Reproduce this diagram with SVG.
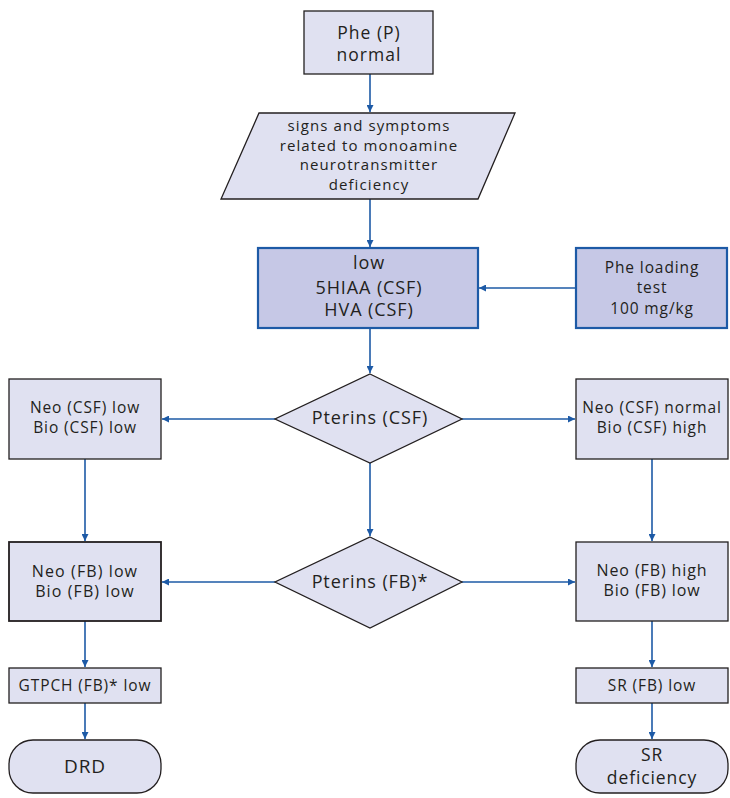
<svg xmlns="http://www.w3.org/2000/svg" width="730" height="798" viewBox="0 0 730 798">
<style>
.n{fill:#e0e1f1;stroke:#231f20;stroke-width:1.3}
.nb{fill:#c6c8e6;stroke:#1d5aa6;stroke-width:2.2}
.t{font-family:"Open Sans","Noto Sans","Liberation Sans",sans-serif;fill:#231f20;text-anchor:middle;letter-spacing:0.9px}
.c{stroke:#1d5aa6;stroke-width:1.6;fill:none;marker-end:url(#ah)}
</style>
<defs>
<marker id="ah" viewBox="0 0 10 10" refX="10" refY="5" markerWidth="7" markerHeight="7" markerUnits="userSpaceOnUse" orient="auto"><path d="M0,0 L10,5 L0,10 z" fill="#1d5aa6"/></marker>
</defs>
<rect width="730" height="798" fill="#fff"/>
<g id="connectors">
<path class="c" d="M370,74 V112"/>
<path class="c" d="M370,199 V247"/>
<path class="c" d="M576,288 H479"/>
<path class="c" d="M370,328 V373"/>
<path class="c" d="M275,419 H162"/>
<path class="c" d="M462,419 H575"/>
<path class="c" d="M370,463 V536"/>
<path class="c" d="M85,459 V541"/>
<path class="c" d="M652,459 V541"/>
<path class="c" d="M275,582 H162"/>
<path class="c" d="M462,582 H575"/>
<path class="c" d="M85,621 V667"/>
<path class="c" d="M652,621 V667"/>
<path class="c" d="M85,703 V739"/>
<path class="c" d="M652,703 V739"/>
</g>
<g id="phe">
<rect class="n" x="304" y="11" width="129" height="63"/>
<text class="t" font-size="17.5" x="369" y="39" style="letter-spacing:1px">Phe (P)</text>
<text class="t" font-size="17.5" x="369" y="61" style="letter-spacing:1px">normal</text>
</g>
<g id="signs">
<polygon class="n" points="259,113 515,113 478,199 221,199"/>
<text class="t" font-size="15" x="369" y="131" style="letter-spacing:1.1px">signs and symptoms</text>
<text class="t" font-size="15" x="369" y="150.7" style="letter-spacing:1.1px">related to monoamine</text>
<text class="t" font-size="15" x="369" y="170.4" style="letter-spacing:1.1px">neurotransmitter</text>
<text class="t" font-size="15" x="369" y="190" style="letter-spacing:1.1px">deficiency</text>
</g>
<g id="low">
<rect class="nb" x="258" y="248" width="220" height="80"/>
<text class="t" font-size="18" x="369" y="269">low</text>
<text class="t" font-size="18" x="369" y="294">5HIAA (CSF)</text>
<text class="t" font-size="18" x="369" y="316">HVA (CSF)</text>
</g>
<g id="pheload">
<rect class="nb" x="576" y="248" width="151" height="80"/>
<text class="t" font-size="15.5" x="652" y="273">Phe loading</text>
<text class="t" font-size="15.5" x="652" y="293">test</text>
<text class="t" font-size="15.5" x="652" y="314">100 mg/kg</text>
</g>
<g id="ptcsf">
<polygon class="n" points="370,374 462,419 370,463 275,419"/>
<text class="t" font-size="18" x="370" y="424">Pterins (CSF)</text>
</g>
<g id="csflow">
<rect class="n" x="9" y="379" width="152" height="80"/>
<text class="t" font-size="15.5" x="85" y="413">Neo (CSF) low</text>
<text class="t" font-size="15.5" x="85" y="433">Bio (CSF) low</text>
</g>
<g id="csfhigh">
<rect class="n" x="576" y="379" width="152" height="80"/>
<text class="t" font-size="15.5" x="652" y="413">Neo (CSF) normal</text>
<text class="t" font-size="15.5" x="652" y="433">Bio (CSF) high</text>
</g>
<g id="ptfb">
<polygon class="n" points="370,537 462,582 370,628 275,582"/>
<text class="t" font-size="18" x="370" y="588">Pterins (FB)*</text>
</g>
<g id="fblow">
<rect class="n" x="9" y="542" width="152" height="79" style="stroke-width:1.8"/>
<text class="t" font-size="16" x="85" y="577" style="letter-spacing:1.1px">Neo (FB) low</text>
<text class="t" font-size="16" x="85" y="597" style="letter-spacing:1.1px">Bio (FB) low</text>
</g>
<g id="fbhigh">
<rect class="n" x="576" y="542" width="152" height="79"/>
<text class="t" font-size="16" x="652" y="576">Neo (FB) high</text>
<text class="t" font-size="16" x="652" y="596">Bio (FB) low</text>
</g>
<g id="gtpch">
<rect class="n" x="9" y="668" width="152" height="35"/>
<text class="t" font-size="15.5" x="85" y="691">GTPCH (FB)* low</text>
</g>
<g id="sr">
<rect class="n" x="576" y="668" width="152" height="35"/>
<text class="t" font-size="15.5" x="652" y="691">SR (FB) low</text>
</g>
<g id="drd">
<rect class="n" x="9" y="740" width="152" height="53" rx="24"/>
<text class="t" font-size="19" x="85" y="773">DRD</text>
</g>
<g id="srdef">
<rect class="n" x="576" y="740" width="152" height="53" rx="24"/>
<text class="t" font-size="17.5" x="652" y="761">SR</text>
<text class="t" font-size="17.5" x="652" y="784">deficiency</text>
</g>
</svg>
